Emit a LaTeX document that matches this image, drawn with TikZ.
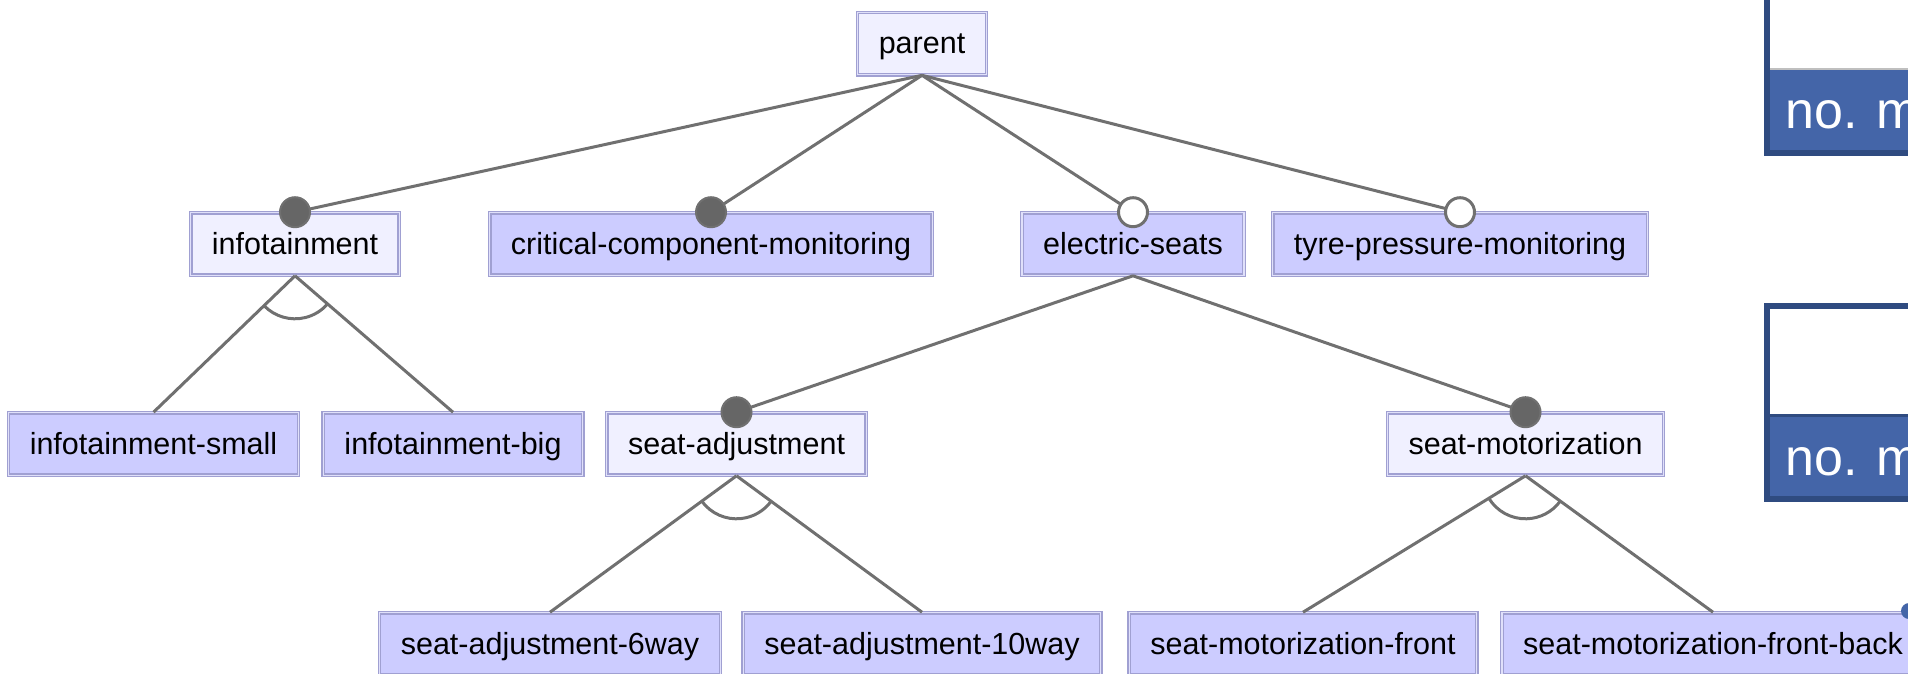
\documentclass[tikz,border=0pt]{standalone}
\usepackage{fontspec}
\setmainfont{Liberation Sans}
\usetikzlibrary{calc,shadows}

\definecolor{featfill}{RGB}{204,204,255}
\definecolor{abstrfill}{RGB}{240,240,255}
\definecolor{featedge}{RGB}{160,160,210}
\definecolor{featinner}{RGB}{224,224,250}
\definecolor{linkgray}{RGB}{112,112,112}
\definecolor{dotgray}{RGB}{102,102,102}
\definecolor{panelnavy}{RGB}{47,75,128}
\definecolor{panelblue}{RGB}{68,101,168}

\tikzset{
  feat/.style={rectangle, draw=featedge, double=featinner, line width=1.2pt,
    double distance=1.2pt, fill=featfill, minimum height=62.4pt,
    inner xsep=21.2pt, inner ysep=0pt, text=black,
    text height=26.5pt, text depth=6.5pt,
    font=\fontsize{30.5}{36}\selectfont,
    general shadow={fill=black, opacity=0.2, shadow xshift=1.5pt, shadow yshift=-1.5pt}},
  abstr/.style={feat, fill=abstrfill},
  conn/.style={draw=linkgray, line width=3pt},
  mand/.style={circle, fill=dotgray, draw=linkgray, line width=2pt,
    minimum size=30pt, inner sep=0pt},
  opt/.style={circle, fill=white, draw=linkgray, line width=3pt,
    minimum size=29pt, inner sep=0pt},
  cardlabel/.style={anchor=base west, inner sep=0pt, text=white,
    font=\fontsize{52}{60}\selectfont},
}

% alternative group: arc between the two edges leaving the parent's bottom
\newcommand\altgroup[3]{%
  \draw[conn] let \p1=($(#2.north)-(#1.south)$), \p2=($(#3.north)-(#1.south)$),
      \n1={atan2(\y1,\x1)}, \n2={atan2(\y2,\x2)} in
    ($(#1.south)!43pt!(#2.north)$) arc[start angle=\n1, end angle=\n2, radius=43pt];}

\begin{document}
\begin{tikzpicture}[x=1pt,y=1pt]
\useasboundingbox (0,0) rectangle (1908,-673);
\begin{scope}
\clip (0,0) rectangle (1908,-673);

% feature boxes
\node[abstr] (parent) at (922,-43.5) {parent};

\node[abstr] (info)   at (295,-244)  {infotainment};
\node[feat]  (ccm)    at (711,-244)  {critical-component-monitoring};
\node[feat]  (eseats) at (1133,-244) {electric-seats};
\node[feat]  (tpm)    at (1460,-244) {tyre-pressure-monitoring};

\node[feat]  (infosmall) at (153.5,-444)  {infotainment-small};
\node[feat]  (infobig)   at (453,-444)    {infotainment-big};
\node[abstr] (seatadj)   at (736.5,-444)  {seat-adjustment};
\node[abstr] (seatmot)   at (1525.5,-444) {seat-motorization};

\node[feat] (adjsix)   at (550,-644)  {seat-adjustment-6way};
\node[feat] (adjten)   at (922,-644)  {seat-adjustment-10way};
\node[feat] (motfront) at (1303,-644) {seat-motorization-front};
\node[feat] (motfb)    at (1713,-644) {seat-motorization-front-back};

% edges
\draw[conn] (parent.south) -- (info.north);
\draw[conn] (parent.south) -- (ccm.north);
\draw[conn] (parent.south) -- (eseats.north);
\draw[conn] (parent.south) -- (tpm.north);

\draw[conn] (info.south) -- (infosmall.north);
\draw[conn] (info.south) -- (infobig.north);
\altgroup{info}{infosmall}{infobig}

\draw[conn] (eseats.south) -- (seatadj.north);
\draw[conn] (eseats.south) -- (seatmot.north);

\draw[conn] (seatadj.south) -- (adjsix.north);
\draw[conn] (seatadj.south) -- (adjten.north);
\altgroup{seatadj}{adjsix}{adjten}

\draw[conn] (seatmot.south) -- (motfront.north);
\draw[conn] (seatmot.south) -- (motfb.north);
\altgroup{seatmot}{motfront}{motfb}

% mandatory / optional markers
\node[mand] (m-info)    at (info.north)    {};
\node[mand] (m-ccm)     at (ccm.north)     {};
\node[opt]  (o-eseats)  at (eseats.north)  {};
\node[opt]  (o-tpm)     at (tpm.north)     {};
\node[mand] (m-seatadj) at (seatadj.north) {};
\node[mand] (m-seatmot) at (seatmot.north) {};

% side cards
\draw[panelnavy, line width=6pt, fill=white] (1767,20) rectangle (1950,-153);
\fill[panelblue] (1770,-70) rectangle (1950,-150);
\draw[black!25, line width=1.5pt] (1770,-69) -- (1950,-69);
\node[cardlabel] (cardA) at (1785,-128) {no. m};

\draw[panelnavy, line width=6pt, fill=white] (1767,-306) rectangle (1950,-499);
\fill[panelblue] (1770,-416) rectangle (1950,-496);
\draw[panelnavy, line width=3pt] (1770,-415) -- (1950,-415);
\node[cardlabel] (cardB) at (1785,-475) {no. m};

\fill[panelblue] (1909,-611) circle (8);
\end{scope}
\end{tikzpicture}
\end{document}
